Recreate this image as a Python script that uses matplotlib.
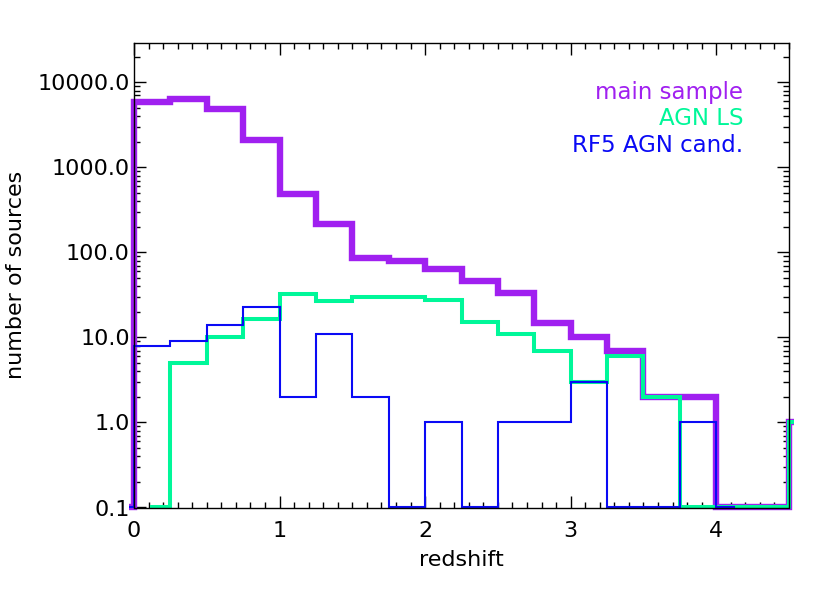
import numpy as np
import matplotlib
matplotlib.use("Agg")
import matplotlib.pyplot as plt
from matplotlib.ticker import LogLocator, FixedLocator, MultipleLocator, FuncFormatter, NullFormatter
from matplotlib.transforms import Bbox, TransformedBbox

# bin centres (bin width 0.25) and counts; zeros are drawn at the plot floor
main_centers = [-0.125, 0.125, 0.375, 0.625, 0.875, 1.125, 1.375, 1.625, 1.875, 2.125,
                2.375, 2.625, 2.875, 3.125, 3.375, 3.625, 3.875, 4.125, 4.375, 4.625]
main_counts = [0, 5900, 6300, 4800, 2100, 490, 215, 85, 80, 64,
               46, 33.5, 14.8, 10, 7, 2, 2, 0, 0, 1]

agn_centers = [0.125, 0.375, 0.625, 0.875, 1.125, 1.375, 1.625, 1.875, 2.125, 2.375,
               2.625, 2.875, 3.125, 3.375, 3.625, 3.875, 4.125, 4.375, 4.625]
agn_counts = [0, 5, 10, 16.5, 32.5, 27, 29.8, 30, 27.8, 15.1,
              11, 7, 3, 6, 2, 0, 0, 0, 1]

rf5_centers = [-0.125, 0.125, 0.375, 0.625, 0.875, 1.125, 1.375, 1.625, 1.875, 2.125,
               2.375, 2.625, 2.875, 3.125, 3.375, 3.625, 3.875, 4.125]
rf5_counts = [0, 8, 9, 14, 23, 2, 11, 2, 0, 1,
              0, 1, 1, 3, 0, 0, 1, 0]

labels = ["main sample", "AGN LS", "RF5 AGN cand."]
colors = ["#A020F0", "#00F799", "#0A0AF5"]
floor = 0.1

fig = plt.figure(figsize=(8.3, 5.93), dpi=100)
ax = fig.add_axes([134 / 830, 1 - 507.5 / 593, (789 - 134) / 830, (507.5 - 43) / 593])

def fl(v):
    return [max(x, floor) for x in v]

clip = TransformedBbox(Bbox([[-0.007, -0.012], [1.007, 1.0]]), ax.transAxes)
lines = []
lines += ax.step(main_centers, fl(main_counts), where="mid", color=colors[0], lw=4.6, solid_joinstyle="miter")
lines += ax.step(agn_centers, fl(agn_counts), where="mid", color=colors[1], lw=2.9, solid_joinstyle="miter")
lines += ax.step(rf5_centers, fl(rf5_counts), where="mid", color=colors[2], lw=1.5, solid_joinstyle="miter")
for ln in lines:
    ln.set_clip_box(clip)

ax.set_yscale("log")
ax.set_xlim(0, 4.5)
ax.set_ylim(0.1, 2.9e4)

font = "DejaVu Sans"
ax.xaxis.set_major_locator(FixedLocator([0, 1, 2, 3, 4]))
ax.xaxis.set_minor_locator(MultipleLocator(0.1))
ax.yaxis.set_major_locator(LogLocator(base=10, numticks=10))
ax.yaxis.set_minor_locator(LogLocator(base=10, subs=np.arange(2, 10), numticks=20))
ax.yaxis.set_major_formatter(FuncFormatter(lambda v, p: f"{v:.1f}"))
ax.yaxis.set_minor_formatter(NullFormatter())
ax.xaxis.set_major_formatter(FuncFormatter(lambda v, p: f"{int(round(v))}"))

ax.tick_params(which="both", direction="in", top=True, right=True, width=1.0, color="black",
               labelsize=16, labelcolor="black")
ax.tick_params(which="major", length=8.5)
ax.tick_params(which="minor", length=4.5)
ax.tick_params(axis="y", which="major", pad=3)
ax.tick_params(axis="x", which="major", pad=10)
for s in ax.spines.values():
    s.set_linewidth(1.0)

for t in ax.get_xticklabels() + ax.get_yticklabels():
    t.set_fontfamily(font)

ax.set_xlabel("redshift", fontsize=16, family=font, labelpad=6)
ax.set_ylabel("number of sources", fontsize=16, family=font, labelpad=8)

ys = [0.8788, 0.8235, 0.766]
for lab, c, y in zip(labels, colors, ys):
    ax.text(0.9298, y, lab, transform=ax.transAxes, color=c, fontsize=16.5, family=font,
            ha="right", va="baseline")

fig.savefig("out.png", dpi=100)
